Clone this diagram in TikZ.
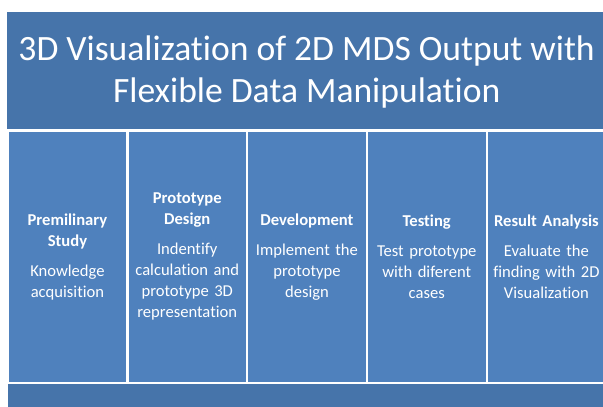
\documentclass[tikz,border=0pt]{standalone}
\usepackage{fontspec}
\setmainfont{Carlito}[Ligatures=NoCommon]
\definecolor{barblue}{RGB}{70,116,170}
\definecolor{colblue}{RGB}{79,129,189}
\begin{document}
\begin{tikzpicture}[x=1pt,y=-1pt,
  bar/.style={fill=barblue,draw=none,anchor=north west,inner sep=0pt},
  column/.style={fill=colblue,draw=none,anchor=north west,inner sep=0pt,
    minimum width=117.5pt,minimum height=250pt},
  coltext/.style={text=white,align=center,text width=116pt,inner sep=0pt,
    font=\fontsize{16.6}{21}\selectfont}]
\useasboundingbox (0,0) rectangle (603,407);
\fill[white] (0,0) rectangle (603,407);
% title banner
\node[bar,minimum width=599pt,minimum height=117pt] (title) at (7,12) {};
\node[text=white,align=center,inner sep=0pt,
  font=\fontsize{35.6}{42}\selectfont] (titletext) at ([yshift=-1pt]title.center)
  {3D Visualization of 2D MDS Output with\\Flexible Data Manipulation};
% five phase columns
\node[column] (c1) at (8.5,131.5) {};
\node[column] (c2) at (128.3,131.5) {};
\node[column] (c3) at (248,131.5) {};
\node[column] (c4) at (367.8,131.5) {};
\node[column] (c5) at (487.5,131.5) {};
\node[coltext] (t1) at (c1.center) {\textbf{Premilinary\\Study}\\[9pt]Knowledge\\acquisition};
\node[coltext] (t2) at (c2.center) {\textbf{Prototype\\Design}\\[9pt]Indentify\\calculation and\\prototype 3D\\representation};
\node[coltext] (t3) at (c3.center) {\textbf{Development}\\[9pt]Implement the\\prototype\\design};
\node[coltext] (t4) at (c4.center) {\textbf{Testing}\\[9pt]Test prototype\\with diferent\\cases};
\node[coltext] (t5) at (c5.center) {\textbf{Result Analysis}\\[9pt]Evaluate the\\finding with 2D\\Visualization};
% bottom bar
\node[bar,minimum width=598pt,minimum height=26pt] (base) at (8,384) {};
\end{tikzpicture}
\end{document}
